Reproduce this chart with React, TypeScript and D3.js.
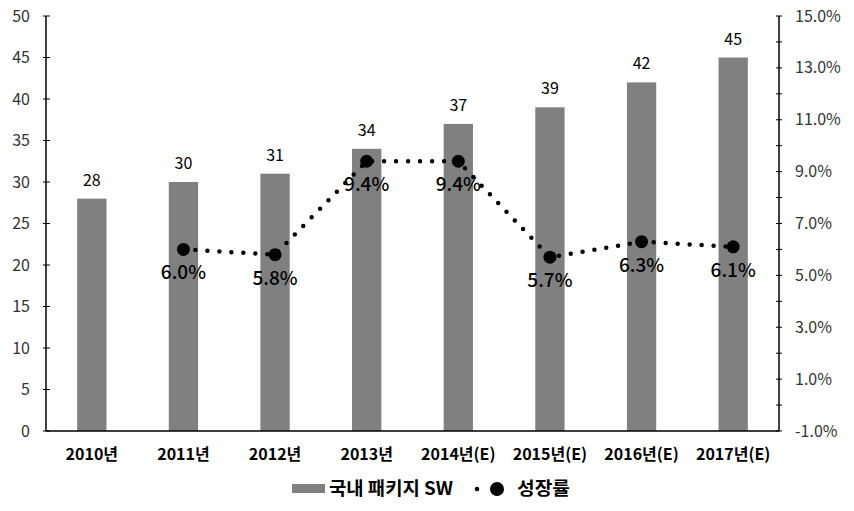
import React from "react";
import * as d3 from "d3";

const categories = ["2010년", "2011년", "2012년", "2013년", "2014년(E)", "2015년(E)", "2016년(E)", "2017년(E)"];
const sales = [28, 30, 31, 34, 37, 39, 42, 45];
const growth: (number | null)[] = [null, 6.0, 5.8, 9.4, 9.4, 5.7, 6.3, 6.1];
const leftTicks = [0, 5, 10, 15, 20, 25, 30, 35, 40, 45, 50];
const rightTicks = d3.range(-1, 15.5, 1);
const rightLabels = [-1, 1, 3, 5, 7, 9, 11, 13, 15];

const W = 854, H = 511;
const L = 46, R = 779, T = 16, B = 431;
const FONT = "'Noto Sans CJK KR', 'Noto Sans', sans-serif";

export default function App() {
  const x = d3.scaleBand<string>().domain(categories).range([L, R]).paddingInner(0.68).paddingOuter(0.34);
  const yL = d3.scaleLinear().domain([0, 50]).range([B, T]);
  const yR = d3.scaleLinear().domain([-1, 15]).range([B, T]);
  const cx = (c: string) => (x(c) as number) + x.bandwidth() / 2;
  const pts = categories.map((c, i) => ({ c, v: growth[i] })).filter((d) => d.v !== null) as { c: string; v: number }[];
  const line = d3.line<{ c: string; v: number }>().x((d) => cx(d.c)).y((d) => yR(d.v));

  return (
    <svg width={W} height={H} style={{ position: "absolute", left: 0, top: 0, background: "#fff" }} fontFamily={FONT}>
      {categories.map((c, i) => (
        <g key={c}>
          <rect x={x(c)} y={yL(sales[i])} width={x.bandwidth()} height={B - yL(sales[i])} fill="#808080" />
          <text x={cx(c)} y={yL(sales[i]) - 13} textAnchor="middle" fontSize={16} fill="#000">{sales[i]}</text>
          <text x={cx(c)} y={B + 29} textAnchor="middle" fontSize={16} fontWeight="bold" fill="#000">{c}</text>
        </g>
      ))}
      {/* axes */}
      <line x1={L} x2={L} y1={T} y2={B} stroke="#000" strokeWidth={1.5} />
      <line x1={R} x2={R} y1={T} y2={B} stroke="#000" strokeWidth={1.5} />
      <line x1={L} x2={R} y1={B} y2={B} stroke="#000" strokeWidth={1.5} />
      {leftTicks.map((t) => (
        <g key={"l" + t}>
          <line x1={L - 3} x2={L + 4} y1={yL(t)} y2={yL(t)} stroke="#000" />
          <text x={30} y={yL(t)} dy="0.35em" textAnchor="end" fontSize={16} fill="#333">{t}</text>
        </g>
      ))}
      {rightTicks.map((t) => (
        <line key={"r" + t} x1={R - 3} x2={R + 3} y1={yR(t)} y2={yR(t)} stroke="#000" />
      ))}
      {rightLabels.map((t) => (
        <text key={"rl" + t} x={795} y={yR(t)} dy="0.35em" textAnchor="start" fontSize={16} fill="#333">{t.toFixed(1)}%</text>
      ))}
      {/* growth line */}
      <path d={line(pts) || ""} fill="none" stroke="#000" strokeWidth={4.5} strokeLinecap="round" strokeDasharray="0 12" />
      {pts.map((d) => (
        <g key={"p" + d.c}>
          <circle cx={cx(d.c)} cy={yR(d.v)} r={6.5} fill="#000" />
          <text x={cx(d.c)} y={yR(d.v) + 30} textAnchor="middle" fontSize={19} fontWeight={500} fill="#000">{d.v.toFixed(1)}%</text>
        </g>
      ))}
      {/* legend */}
      <rect x={292} y={484} width={33} height={9} fill="#808080" />
      <text x={329} y={489} dy="0.35em" fontSize={18} fontWeight="bold" fill="#000" textLength={124} lengthAdjust="spacingAndGlyphs">국내 패키지 SW</text>
      <circle cx={477} cy={489} r={2.3} fill="#000" />
      <circle cx={497} cy={489} r={7} fill="#000" />
      <text x={517} y={489} dy="0.35em" fontSize={18} fontWeight="bold" fill="#000" textLength={53} lengthAdjust="spacingAndGlyphs">성장률</text>
    </svg>
  );
}
